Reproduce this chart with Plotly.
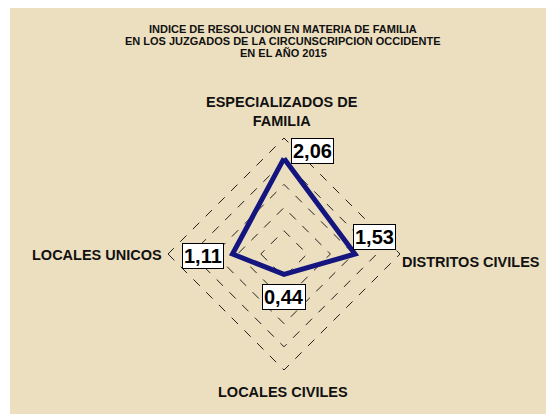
import math
import plotly.graph_objects as go

# ---------------- data ----------------
categories = ["ESPECIALIZADOS DE FAMILIA", "DISTRITOS CIVILES", "LOCALES CIVILES", "LOCALES UNICOS"]
category_labels = ["ESPECIALIZADOS DE<br>FAMILIA", "DISTRITOS CIVILES", "LOCALES CIVILES", "LOCALES UNICOS"]
values = [2.06, 1.53, 0.44, 1.11]
ring_values = [0.5, 1.0, 1.5, 2.0, 2.5]
title_lines = [
    "INDICE DE RESOLUCION EN MATERIA DE FAMILIA",
    "EN LOS JUZGADOS DE LA CIRCUNSCRIPCION OCCIDENTE",
    "EN EL AÑO 2015",
]

# ---------------- layout geometry / style ----------------
W, H = 546, 414
CX, CY, R = 284, 254, 116      # pixel centre (from top) and pixel radius of value RMAX
RMAX = 2.5
RANGE_MAX = 2.6                # a bit beyond the outer ring so that ring is drawn
RD = R * RANGE_MAX / RMAX      # pixel radius of the polar domain
FONT = "Liberation Sans, Arial, sans-serif"
BG = "#ECDFBF"
LINE = "#15157F"

dom_x = [(CX - RD) / W, (CX + RD) / W]
dom_y = [(H - CY - RD) / H, (H - CY + RD) / H]

fig = go.Figure()
fig.add_trace(go.Scatterpolar(
    r=values + values[:1],
    theta=categories + categories[:1],
    mode="lines",
    line=dict(color=LINE, width=5),
    hoverinfo="skip",
    showlegend=False,
))

# data labels (boxed), anchored on each data point
label_offsets = [(28, -7), (20, -17), (0, 23), (-29, 2)]   # pixel offsets (x right, y down)
annotations = []
for i, (v, (ox, oy)) in enumerate(zip(values, label_offsets)):
    ang = math.radians(i * 360 / len(values))
    px = CX + v / RMAX * R * math.sin(ang)
    py = CY - v / RMAX * R * math.cos(ang)
    annotations.append(dict(
        x=px / W, y=1 - py / H, xref="paper", yref="paper",
        text=f"{v:.2f}".replace(".", ","), showarrow=False,
        xshift=ox, yshift=-oy,
        font=dict(family=FONT, size=20, color="black", weight="bold"),
        bgcolor="white", bordercolor="black", borderwidth=1, borderpad=1,
    ))

# category labels (pixel coordinates)
cat_pos = [(282, 111, "center"), (400, 262, "left"), (283, 392, "center"), (164, 255, "right")]
for txt, (x, y, anc) in zip(category_labels, cat_pos):
    annotations.append(dict(
        x=x / W, y=1 - y / H, xref="paper", yref="paper", text=txt,
        showarrow=False, xanchor=anc, yanchor="middle", align="center",
        font=dict(family=FONT, size=14.5, color="#111111", weight="bold"),
    ))

# title
for txt, y in zip(title_lines, [29, 41, 53]):
    annotations.append(dict(
        x=283 / W, y=1 - y / H, xref="paper", yref="paper", text=txt,
        showarrow=False, xanchor="center", yanchor="middle",
        font=dict(family=FONT, size=11, color="#111111", weight="bold"),
    ))

fig.update_layout(
    width=W, height=H,
    margin=dict(l=0, r=0, t=0, b=0),
    paper_bgcolor="white",
    showlegend=False,
    shapes=[dict(type="rect", xref="paper", yref="paper", x0=10 / W, x1=1, y0=0, y1=1 - 8 / H,
                 fillcolor=BG, line=dict(width=0), layer="below")],
    polar=dict(
        domain=dict(x=dom_x, y=dom_y),
        bgcolor="rgba(0,0,0,0)",
        gridshape="linear",
        radialaxis=dict(range=[0, RANGE_MAX], tickvals=ring_values, showticklabels=False,
                        showline=False, ticks="", gridcolor="#222222", griddash="dash",
                        gridwidth=0.8),
        angularaxis=dict(rotation=90, direction="clockwise", showgrid=False,
                         showticklabels=False, showline=False, ticks=""),
    ),
    annotations=annotations,
)

fig.write_html(
    "out.html",
    config={"displayModeBar": False},
    post_script="document.body.style.margin='0';document.body.style.overflow='hidden';",
)
